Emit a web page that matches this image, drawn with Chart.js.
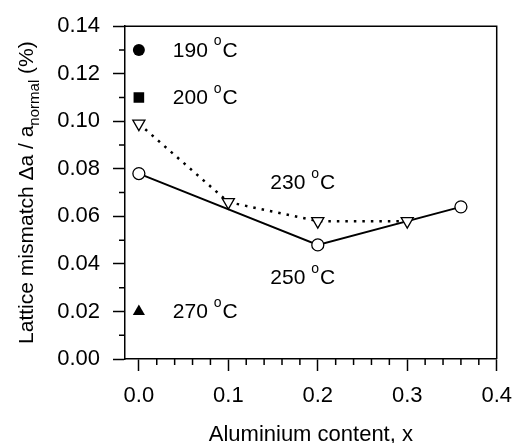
<!DOCTYPE html>
<html>
<head>
<meta charset="utf-8">
<script src="https://cdn.jsdelivr.net/npm/chart.js@4"></script>
<style>
  html, body { margin: 0; padding: 0; background: #fff; }
  #wrap { width: 524px; height: 443px; }
</style>
</head>
<body>
<div id="wrap"><canvas id="mismatch" width="524" height="443"></canvas></div>
<script>
// data
const alX250 = [0, 0.2, 0.36];
const mis250 = [0.078, 0.048, 0.064];
const alX230 = [0, 0.1, 0.2, 0.3];
const mis230 = [0.099, 0.066, 0.058, 0.058];
const singleTemps = ["190 °C", "200 °C", "270 °C"];
const singleX = [0, 0, 0];
const singleY = [0.13, 0.11, 0.02];
const xTicks = [0, 0.1, 0.2, 0.3, 0.4];
const yTicks = [0, 0.02, 0.04, 0.06, 0.08, 0.1, 0.12, 0.14];
const xMinor = [0.02, 0.04, 0.06, 0.08, 0.12, 0.14, 0.16, 0.18, 0.22, 0.24, 0.26, 0.28, 0.32, 0.34, 0.36, 0.38];
const yMinor = [0.01, 0.03, 0.05, 0.07, 0.09, 0.11, 0.13];

const FONT = "'Liberation Sans', Arial, sans-serif";

// draws "190 °C" with a raised small o
function tempText(c, txt, x, y, size) {
  let parts = txt.split("°");
  c.font = size + "px " + FONT;
  c.fillText(parts[0], x, y);
  let w = c.measureText(parts[0]).width;
  c.font = Math.round(size * 0.65) + "px " + FONT;
  c.fillText("o", x + w, y - size * 0.45);
  let w2 = c.measureText("o").width;
  c.font = size + "px " + FONT;
  c.fillText(parts[1], x + w + w2 + 1, y);
}

const extras = {
  id: "extras",
  afterDraw(chart) {
    const c = chart.ctx;
    const a = chart.chartArea;
    const xs = chart.scales.x, ys = chart.scales.y;
    c.save();
    c.strokeStyle = "#000";
    c.lineWidth = 1.5;
    c.beginPath();
    c.moveTo(a.left, a.top);
    c.lineTo(a.right, a.top);
    c.lineTo(a.right, a.bottom);
    c.stroke();
    // minor ticks
    c.beginPath();
    xMinor.forEach(v => {
      let px = xs.getPixelForValue(v);
      c.moveTo(px, a.bottom);
      c.lineTo(px, a.bottom + 6);
    });
    yMinor.forEach(v => {
      let py = ys.getPixelForValue(v);
      c.moveTo(a.left, py);
      c.lineTo(a.left - 6, py);
    });
    c.stroke();

    c.fillStyle = "#000";
    c.textBaseline = "middle";
    c.textAlign = "left";
    // labels beside the single markers
    singleTemps.forEach((t, i) => {
      tempText(c, t, xs.getPixelForValue(singleX[i]) + 34, ys.getPixelForValue(singleY[i]) + 1, 21);
    });
    // series labels
    tempText(c, "230 °C", xs.getPixelForValue(0.147), ys.getPixelForValue(0.074), 21);
    tempText(c, "250 °C", xs.getPixelForValue(0.147), ys.getPixelForValue(0.034), 21);

    // x title
    c.textAlign = "center";
    c.textBaseline = "alphabetic";
    c.font = "22px " + FONT;
    c.fillText("Aluminium content, x", (a.left + a.right) / 2, 441);

    // y title with subscript
    c.translate(33, (a.top + a.bottom) / 2);
    c.rotate(-Math.PI / 2);
    c.textAlign = "left";
    const t1 = "Lattice mismatch \u0394a / a", t2 = "normal", t3 = " (%)";
    c.font = "21px " + FONT;
    let w1 = c.measureText(t1).width, w3 = c.measureText(t3).width;
    c.font = "15px " + FONT;
    let w2 = c.measureText(t2).width;
    let x0 = -(w1 + w2 + w3) / 2;
    c.font = "21px " + FONT;
    c.fillText(t1, x0, 0);
    c.font = "15px " + FONT;
    c.fillText(t2, x0 + w1, 6);
    c.font = "21px " + FONT;
    c.fillText(t3, x0 + w1 + w2, 0);
    c.restore();
  }
};

new Chart(document.getElementById("mismatch").getContext("2d"), {
  type: "scatter",
  data: {
    datasets: [
      {
        label: "230 °C",
        data: alX230.map((x, i) => ({ x: x, y: mis230[i] })),
        showLine: true,
        borderColor: "#000",
        borderWidth: 2.5,
        borderDash: [2.5, 6],
        pointStyle: "triangle",
        rotation: 180,
        pointRadius: 7,
        pointBorderWidth: 1.3,
        pointBackgroundColor: "#fff",
        pointBorderColor: "#000"
      },
      {
        label: "250 °C",
        data: alX250.map((x, i) => ({ x: x, y: mis250[i] })),
        showLine: true,
        borderColor: "#000",
        borderWidth: 2,
        pointStyle: "circle",
        pointRadius: 6,
        pointBorderWidth: 1.3,
        pointBackgroundColor: "#fff",
        pointBorderColor: "#000"
      },
      {
        label: "singles",
        data: singleX.map((x, i) => ({ x: x, y: singleY[i] })),
        showLine: false,
        pointStyle: ["circle", "rect", "triangle"],
        pointRadius: [6, 7.5, 7],
        pointBackgroundColor: "#000",
        pointBorderColor: "#000",
        pointBorderWidth: 0
      }
    ]
  },
  options: {
    responsive: false,
    animation: false,
    layout: { padding: { top: 20, right: 24, left: 0, bottom: 0 } },
    plugins: { legend: { display: false }, tooltip: { enabled: false } },
    scales: {
      x: {
        type: "linear",
        min: -0.0155,
        max: 0.4,
        afterBuildTicks: s => { s.ticks = xTicks.map(v => ({ value: v })); },
        afterFit: s => { s.height = 84; },
        grid: { display: true, drawOnChartArea: false, drawTicks: true, tickLength: 12, tickColor: "#000", tickWidth: 1.5 },
        border: { display: true, color: "#000", width: 1.5 },
        ticks: {
          color: "#000",
          padding: 12,
          font: { family: FONT, size: 22 },
          maxRotation: 0,
          callback: v => v.toFixed(1)
        }
      },
      y: {
        type: "linear",
        min: 0,
        max: 0.14,
        afterBuildTicks: s => { s.ticks = yTicks.map(v => ({ value: v })); },
        afterFit: s => { s.width = 125; },
        grid: { display: true, drawOnChartArea: false, drawTicks: true, tickLength: 12, tickColor: "#000", tickWidth: 1.5 },
        border: { display: true, color: "#000", width: 1.5 },
        ticks: {
          color: "#000",
          padding: 13,
          font: { family: FONT, size: 22 },
          callback: v => v.toFixed(2)
        }
      }
    }
  },
  plugins: [extras]
});
</script>
</body>
</html>
